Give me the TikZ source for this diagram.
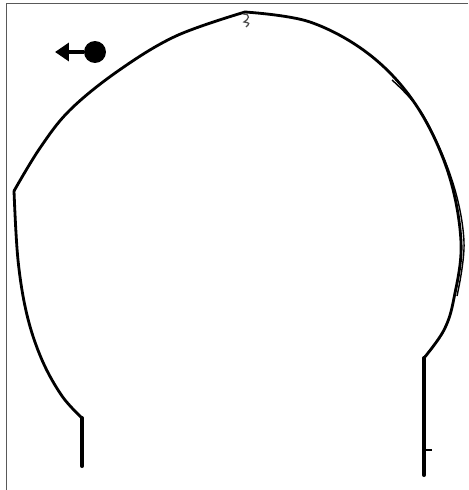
\documentclass[tikz,border=0pt]{standalone}
\usepackage{tikz}
\usetikzlibrary{arrows.meta,positioning}

\begin{document}
\begin{tikzpicture}[
    x=0.02cm, y=-0.02cm,
    frame/.style={draw=black!65, line width=0.9pt},
    arc/.style={line width=1.6pt, line cap=round, line join=round},
    stem/.style={line width=2.3pt, line cap=round},
    ball/.style={circle, fill=black, minimum size=0.44cm, inner sep=0pt},
    push/.style={-{Triangle[length=0.28cm, width=0.36cm]}, line width=2.2pt}
]
\useasboundingbox (0,0) rectangle (468,490);
\fill[white] (0,0) rectangle (468,490);
\draw[frame] (468,3.5) -- (6.5,3.5) -- (6.5,490);

% ball and its push
\node[ball] (B) at (95,52) {};
\coordinate (T) at (55,52);
\draw[push] (B.west) -- (T);

% corners of the track
\coordinate (L) at (82,418);
\coordinate (K) at (14,191);
\coordinate (P) at (245,12);
\coordinate (R) at (424,358);

% track
\draw[arc] plot[smooth, tension=0.6] coordinates {(L) (62,396) (42,360) (27,315) (18,260) (K)};
\draw[arc] plot[smooth, tension=0.6] coordinates {(K) (40,148) (70,110) (118,71) (176,36) (P)};
\draw[arc] plot[smooth, tension=0.6] coordinates {(P) (310,22) (370,55) (416,105) (448,172) (461,242) (454,298) (444,330) (R)};
\draw[line width=0.8pt] plot[smooth, tension=0.6] coordinates {(392,80) (423,115) (452,180) (464,242) (457,296)};
\draw[line width=0.7pt, black!70] (P) ++(-2,2) .. controls (252,14) and (248,20) .. (244,22) .. controls (250,23) .. (246,27);

% stems
\draw[stem] (L) -- (82,466);
\draw[stem] (R) -- (424,475);
\draw[line width=1pt] (424,450) -- (432,450);
\end{tikzpicture}
\end{document}
